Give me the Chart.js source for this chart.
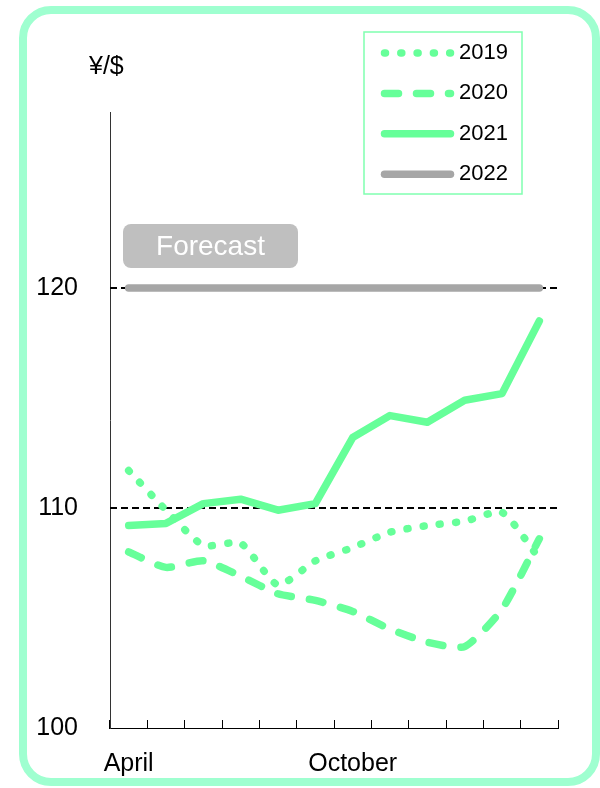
<!DOCTYPE html>
<html>
<head>
<meta charset="utf-8">
<script src="https://cdn.jsdelivr.net/npm/chart.js@4.4.1/dist/chart.umd.min.js"></script>
<style>
  html, body { margin: 0; padding: 0; background: #fff; }
  #wrap { width: 600px; height: 788px; }
</style>
</head>
<body>
<div id="wrap"><canvas id="fxChart" width="600" height="788"></canvas></div>
<script>
// months of the fiscal year, only April and October get a label
const months = ['April', 'May', 'June', 'July', 'August', 'September', 'October', 'November', 'December', 'January', 'February', 'March'];
const shownMonths = ['April', 'October'];

// yen per dollar
const rate2019 = [111.7, 109.9, 108.3, 108.4, 106.5, 107.6, 108.2, 108.9, 109.2, 109.4, 109.8, 107.7];
const rate2020 = [108.0, 107.3, 107.6, 106.9, 106.1, 105.8, 105.3, 104.5, 103.9, 103.7, 105.4, 108.6];
const rate2021 = [109.2, 109.3, 110.2, 110.4, 109.9, 110.2, 113.2, 114.2, 113.9, 114.9, 115.2, 118.5];
const rate2022 = [120, 120, 120, 120, 120, 120, 120, 120, 120, 120, 120, 120];

const yTicks = [100, 110, 120];
const refLines = [110, 120];

const green = '#66ff99';
const grey = '#a6a6a6';

Chart.defaults.font.family = "'Liberation Sans', Arial, sans-serif";
Chart.defaults.color = '#000';

const frame = {
  id: 'frame',
  beforeDraw(chart) {
    const ctx = chart.ctx;
    ctx.save();
    ctx.strokeStyle = '#9fffd0';
    ctx.lineWidth = 8;
    ctx.beginPath();
    ctx.roundRect(23, 10, 573, 772, 28);
    ctx.stroke();
    ctx.restore();
  },
  beforeDatasetsDraw(chart) {
    const ctx = chart.ctx;
    const area = chart.chartArea;
    const y = chart.scales.y;
    ctx.save();
    ctx.strokeStyle = '#000';
    ctx.lineWidth = 2;
    ctx.setLineDash([7, 4]);
    refLines.forEach(v => {
      const py = Math.round(y.getPixelForValue(v));
      ctx.beginPath();
      ctx.moveTo(area.left, py);
      ctx.lineTo(area.right, py);
      ctx.stroke();
    });
    ctx.setLineDash([]);

    // forecast badge
    ctx.fillStyle = '#bfbfbf';
    ctx.beginPath();
    ctx.roundRect(123, 224, 175, 44, 8);
    ctx.fill();
    ctx.fillStyle = '#fff';
    ctx.font = "28px 'Liberation Sans', Arial, sans-serif";
    ctx.textAlign = 'center';
    ctx.textBaseline = 'middle';
    ctx.fillText('Forecast', 210.5, 247);

    // unit label
    ctx.fillStyle = '#000';
    ctx.font = "25px 'Liberation Sans', Arial, sans-serif";
    ctx.textAlign = 'left';
    ctx.fillText('¥/$', 89, 67);
    ctx.restore();
  },
  afterDraw(chart) {
    const ctx = chart.ctx;
    ctx.save();
    ctx.strokeStyle = '#80ffb0';
    ctx.lineWidth = 1.5;
    ctx.strokeRect(364, 32, 158, 162);
    ctx.font = "22px 'Liberation Sans', Arial, sans-serif";
    ctx.textBaseline = 'middle';
    ctx.textAlign = 'left';
    chart.data.datasets.forEach((ds, i) => {
      const ly = 53 + i * 40.4;
      ctx.strokeStyle = ds.borderColor;
      ctx.lineWidth = ds.borderWidth;
      ctx.lineCap = 'round';
      ctx.setLineDash(ds.borderDash || []);
      ctx.beginPath();
      ctx.moveTo(384.5, ly);
      ctx.lineTo(450.5, ly);
      ctx.stroke();
      ctx.setLineDash([]);
      ctx.fillStyle = '#000';
      ctx.fillText(ds.label, 459, ly);
    });
    ctx.restore();
  }
};

new Chart(document.getElementById('fxChart'), {
  type: 'line',
  data: {
    labels: months,
    datasets: [
      {
        label: '2019',
        data: rate2019,
        borderColor: green,
        borderWidth: 7.5,
        borderDash: [1, 15.3],
        borderCapStyle: 'round',
        tension: 0.2,
        pointRadius: 0,
        order: 3,
      },
      {
        label: '2020',
        data: rate2020,
        borderColor: green,
        borderWidth: 7.5,
        borderDash: [14, 18],
        borderCapStyle: 'round',
        tension: 0.2,
        pointRadius: 0,
        order: 2,
      },
      {
        label: '2021',
        data: rate2021,
        borderColor: green,
        borderWidth: 7.5,
        borderCapStyle: 'round',
        borderJoinStyle: 'round',
        tension: 0,
        pointRadius: 0,
        order: 1,
      },
      {
        label: '2022',
        data: rate2022,
        borderColor: grey,
        borderWidth: 7.5,
        borderCapStyle: 'round',
        tension: 0,
        pointRadius: 0,
        order: 0,
      },
    ],
  },
  options: {
    responsive: false,
    animation: false,
    layout: {
      padding: { left: 0, top: 112, right: 42, bottom: 0 },
    },
    scales: {
      x: {
        offset: true,
        grid: {
          display: true,
          offset: true,
          drawOnChartArea: false,
          drawTicks: true,
          tickLength: -8,
          color: '#000',
          lineWidth: 1,
        },
        border: { display: true, color: '#000', width: 1 },
        ticks: {
          autoSkip: false,
          maxRotation: 0,
          padding: 29,
          font: { size: 25 },
          callback: function (value, index) {
            const m = months[index];
            return shownMonths.includes(m) ? m : '';
          },
        },
        afterFit(scale) {
          scale.height = 60;
        },
      },
      y: {
        min: 100,
        max: 128,
        grid: { display: false, drawTicks: false },
        border: { display: true, color: '#333', width: 1 },
        ticks: {
          padding: 32,
          font: { size: 25 },
        },
        afterBuildTicks(scale) {
          scale.ticks = yTicks.map(v => ({ value: v }));
        },
        afterFit(scale) {
          scale.width = 110;
        },
      },
    },
    plugins: {
      legend: { display: false },
      tooltip: { enabled: false },
    },
  },
  plugins: [frame],
});
</script>
</body>
</html>
